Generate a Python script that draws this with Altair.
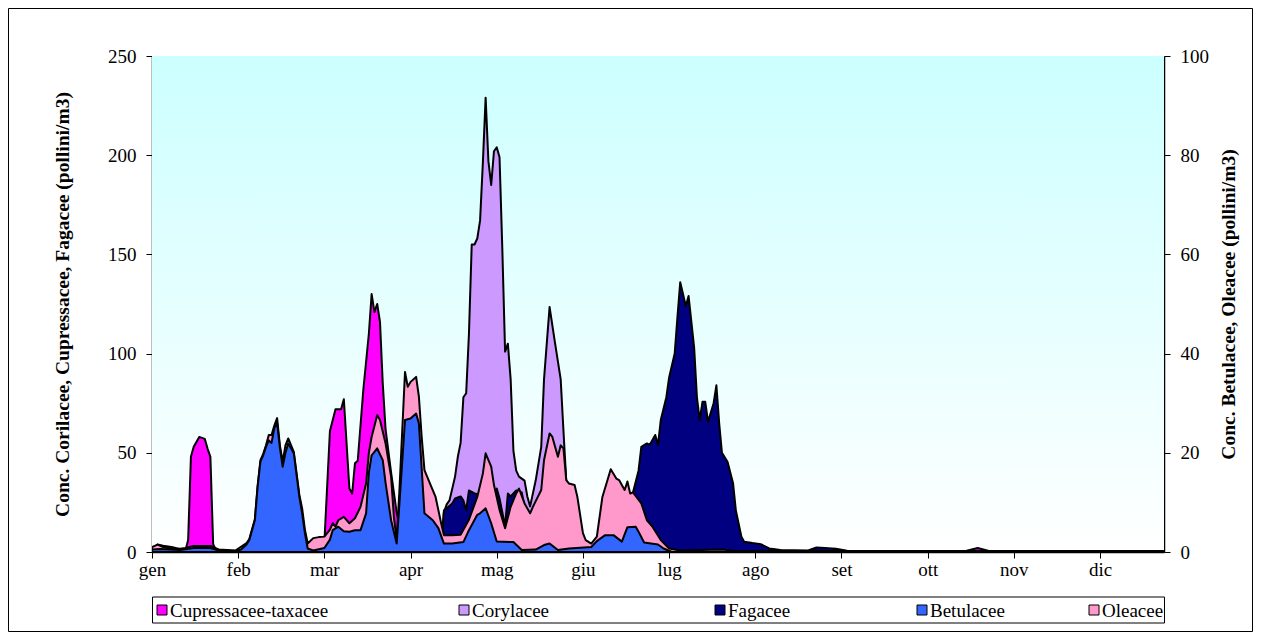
import altair as alt
import pandas as pd

# ---------------- data (day index, value) ----------------
MONTHS = ["gen", "feb", "mar", "apr", "mag", "giu", "lug", "ago", "set", "ott", "nov", "dic"]
MONTH_TICKS = [0, 31, 62, 93, 124, 155, 186, 217, 248, 279, 310, 341]

SERIES = ["Cupressacee-taxacee", "Corylacee", "Fagacee", "Betulacee", "Oleacee"]
COLORS = ["#FF00FF", "#CC99FF", "#000080", "#3366FF", "#FF99CC"]

# primary axis (left, 0-250)
cup_day = [0, 2, 4, 7, 10, 12, 13, 14, 15, 17, 19, 20, 21, 22, 23, 26, 58, 60, 62, 64, 66, 68, 69, 71, 72, 73,
           74, 76, 78, 79, 80, 81, 82, 83, 84, 86, 88, 90, 93, 100, 110, 150, 220, 224, 228, 292, 297, 301, 364]
cup_val = [1, 3.8, 3.2, 2.5, 1.5, 0.8, 6, 48, 53, 58, 57, 52, 48, 4, 1, 0, 0, 1, 5, 61, 72, 72, 77, 32, 29.5, 44.7,
           46, 81.6, 110, 130, 121, 125, 116, 85, 62, 40, 20, 6, 2, 1, 0.5, 0.3, 0.3, 1.2, 0.3, 0.3, 2, 0.5, 0.2]

cor_day = [0, 104, 105, 106, 107, 109, 110, 111, 112, 113, 114, 115, 116, 117, 118, 119, 120, 121, 122, 123, 124,
           125, 126, 127, 128, 129, 130, 131, 132, 134, 135, 136, 138, 140, 141, 143, 145, 147, 148, 149, 150, 152,
           155, 160, 364]
cor_val = [0, 0, 20, 24, 26, 38, 48, 55, 78, 80, 110, 155, 155, 158, 167, 196, 229, 197, 185, 202, 204,
           199, 153, 101, 105, 87, 51, 41, 38, 36, 28, 23, 36, 53, 87, 123.5, 105, 87, 61, 36, 20, 5,
           1, 0, 0]

fag_day = [0, 104, 105, 106, 108, 109, 111, 112, 113, 114, 116, 118, 120, 122, 124, 125, 127, 128, 129, 131, 133,
           135, 137, 140, 150, 160, 168, 170, 173, 175, 176, 178, 179, 181, 182, 183, 185, 186, 188, 189, 190, 192,
           193, 195, 196, 197, 198, 199, 200, 202, 203, 204, 205, 207, 209, 210, 212, 213, 216, 219, 222, 226, 236,
           239, 242, 246, 250, 364]
fag_val = [0, 0, 21, 22, 24.5, 27, 28, 26, 21, 31, 29.5, 29, 25, 28, 32, 27, 13, 29.5, 28, 31, 30,
           15, 5, 2, 2, 3, 10, 25, 30, 41, 53, 54.7, 54, 59, 54, 66.5, 78, 88, 100, 118.5, 136, 124,
           129, 103, 78, 66.5, 75.7, 75.7, 65.6, 75, 84, 65, 50, 45.5, 34.6, 21, 7.7, 5.2, 4.5, 3.9, 1.8, 1, 0.8,
           2.3, 2, 1.6, 0.6, 0.3]

# secondary axis (right, 0-100)
bet_day = [0, 3, 10, 15, 21, 24, 30, 32, 34, 35, 37, 38, 39, 40, 41, 42, 43, 44, 45, 46, 47, 48, 49, 51, 53, 54,
           55, 56, 58, 62, 64, 65, 67, 69, 71, 73, 75, 77, 78, 79, 81, 83, 84, 86, 88, 89, 91, 93, 95, 96, 98, 101,
           103, 105, 108, 112, 114, 117, 118, 120, 122, 124, 130, 133, 138, 141, 143, 146, 150, 158, 160, 163, 166,
           169, 171, 174, 175, 177, 182, 184, 187, 364]
bet_val = [0.5, 0.6, 0.4, 0.8, 0.8, 0.3, 0.2, 0.5, 1.5, 2.4, 6.4, 13.2, 18.2, 19.5, 21.2, 22.5, 22, 25, 26, 21, 17.2,
           20, 21.9, 19.9, 11.1, 7.8, 3.8, 0.7, 0.3, 0.8, 2.5, 4.4, 5.1, 4.2, 4.1, 4.4, 4.4, 7.8, 16, 19.5, 20.9,
           18.5, 14, 6.4, 1.7, 9.8, 26.6, 26.9, 27.9, 25.9, 7.8, 6.4, 4.8, 1.7, 1.7, 2, 4.4, 7.5, 7.8, 8.8, 5.8,
           2.1, 2, 0.4, 0.5, 1.4, 1.7, 0.4, 0.7, 1, 2.2, 3.4, 3.4, 2.1, 5, 5.1, 4.1, 1.9, 1.5, 0.7, 0, 0]

ole_day = [0, 2, 4, 8, 12, 15, 21, 24, 30, 34, 35, 37, 38, 39, 40, 41, 42, 43, 44, 45, 46, 47, 48, 49, 51, 53, 54,
           55, 56, 58, 60, 62, 64, 65, 66, 67, 69, 71, 73, 75, 77, 78, 79, 81, 82, 84, 86, 87, 88, 89, 91, 92, 93,
           95, 96, 97, 98, 100, 102, 104, 105, 108, 111, 114, 117, 119, 120, 122, 123, 125, 127, 129, 131, 132,
           134, 136, 137, 140, 141, 143, 144, 146, 147, 148, 149, 150, 152, 153, 155, 156, 158, 160, 162, 165,
           167, 168, 170, 171, 172, 173, 176, 178, 180, 183, 186, 190, 205, 210, 364]
ole_val = [1, 1.5, 1, 0.5, 0.8, 1.2, 1.2, 0.5, 0.3, 1.8, 2.6, 6.6, 13.4, 18.5, 19.8, 21.5, 23.6, 23.6, 25.5, 27,
           21.5, 18.2, 21.5, 22.9, 20.2, 11.5, 8.8, 4.5, 1.7, 2.8, 3, 3.1, 4.5, 5.8, 5.1, 6.4, 7.1, 5.8, 6.8, 9.1,
           13.8, 20, 23.2, 27.6, 26.6, 21.9, 15.2, 7.1, 2.4, 12.5, 36.3, 33.3, 34.3, 35.3, 31.3, 23.2, 16.5, 13.8,
           11.1, 5.8, 3.4, 3.4, 3.5, 6.5, 11.1, 15.8, 19.9, 17.2, 13.5, 8.5, 4.8, 9.1, 11.8, 12.8, 9.8, 7.8, 9.1,
           12.5, 18.5, 23.9, 23.2, 19.2, 21.5, 20.9, 14.5, 13.8, 13.5, 11.1, 3.8, 2.4, 1.7, 3.1, 11.1, 16.7,
           14.8, 14.5, 12.5, 14.2, 11.8, 12, 9.8, 6.4, 5.1, 2.4, 0.7, 0.3, 0.5, 0.2, 0.2]


def frame(days, vals, name):
    return pd.DataFrame({"day": days, "value": vals, "series": name})


# ---------------- layout ----------------
W, H = 1012, 496
SERIF = "Liberation Serif"

x_scale = alt.Scale(domain=[0, 364], nice=False, zero=False)
y_left = alt.Scale(domain=[0, 250], nice=False)
y_right = alt.Scale(domain=[0, 100], nice=False)

month_expr = "[" + ",".join("'%s'" % m for m in MONTHS) + "][round(datum.value/31)]"

x_axis = alt.Axis(values=MONTH_TICKS, labelExpr=month_expr, title=None, grid=False,
                  tickSize=6, tickColor="black", domainColor="black", domainWidth=1.5,
                  labelFont=SERIF, labelFontSize=19, labelColor="black", labelPadding=2,
                  labelAlign="center")

left_axis = alt.Axis(orient="left", values=[0, 50, 100, 150, 200, 250], grid=True,
                     gridColor="#808080", gridWidth=1,
                     tickSize=6, tickColor="black", domainColor="black", domainWidth=1.5,
                     labelFont=SERIF, labelFontSize=19, labelColor="black", labelPadding=10,
                     title="Conc. Corilacee, Cupressacee, Fagacee (pollini/m3)",
                     titleFont=SERIF, titleFontSize=19.5, titleFontWeight="bold", titleColor="black",
                     titleAngle=270, titleX=-90, titleY=H / 2, titleAlign="center", titleBaseline="middle")

right_axis = alt.Axis(orient="right", values=[0, 20, 40, 60, 80, 100], grid=False,
                      tickSize=6, tickColor="black", domainColor="black", domainWidth=1.5,
                      labelFont=SERIF, labelFontSize=19, labelColor="black", labelPadding=10,
                      title="Conc. Betulacee, Oleacee (pollini/m3)",
                      titleFont=SERIF, titleFontSize=19.5, titleFontWeight="bold", titleColor="black",
                      titleAngle=270, titleX=64, titleY=H / 2, titleAlign="center", titleBaseline="middle")


def area(df, yscale, yaxis, color):
    return alt.Chart(df).mark_area(fill=color, stroke="black", strokeWidth=2, strokeJoin="round",
                                   interpolate="linear", clip=True).encode(
        x=alt.X("day:Q", scale=x_scale, axis=x_axis),
        y=alt.Y("value:Q", scale=yscale, axis=yaxis),
        tooltip=["series:N", "day:Q", "value:Q"],
    )


one_row = alt.Data(values=[{}])

background = alt.Chart(one_row).mark_rect(
    fill=alt.LinearGradient(gradient="linear", x1=0, x2=0, y1=0, y2=1,
                            stops=[alt.GradientStop(color="#CCFFFF", offset=0),
                                   alt.GradientStop(color="#FFFFFF", offset=1)])
).encode(x=alt.value(0), x2=alt.value(W), y=alt.value(0), y2=alt.value(H))

border = alt.Chart(one_row).mark_rect(
    filled=False, stroke="black", strokeWidth=1
).encode(x=alt.value(-143.5), x2=alt.value(W + 88.5), y=alt.value(-47.5), y2=alt.value(H + 79.5))

# ---- legend (drawn as a framed row of swatches + labels) ----
LEG_TOP, LEG_H = H + 45, 26
LEG_CY = LEG_TOP + LEG_H / 2
LEG_SWATCH_X = [10, 312, 568, 770, 942]

legend_layers = [
    alt.Chart(one_row).mark_rect(fill="white", stroke="black", strokeWidth=1).encode(
        x=alt.value(0.5), x2=alt.value(W + 0.5), y=alt.value(LEG_TOP), y2=alt.value(LEG_TOP + LEG_H))
]
for name, col, sx in zip(SERIES, COLORS, LEG_SWATCH_X):
    legend_layers.append(
        alt.Chart(one_row).mark_square(size=100, fill=col, stroke="black", strokeWidth=1, opacity=1).encode(
            x=alt.value(sx), y=alt.value(LEG_CY)))
    legend_layers.append(
        alt.Chart(one_row).mark_text(text=name, font=SERIF, fontSize=19, color="black",
                                     align="left", baseline="middle").encode(
            x=alt.value(sx + 8), y=alt.value(LEG_CY + 1)))

primary = alt.layer(
    background,
    area(frame(cup_day, cup_val, SERIES[0]), y_left, left_axis, COLORS[0]),
    area(frame(cor_day, cor_val, SERIES[1]), y_left, left_axis, COLORS[1]),
    area(frame(fag_day, fag_val, SERIES[2]), y_left, left_axis, COLORS[2]),
)

secondary = alt.layer(
    area(frame(ole_day, ole_val, SERIES[4]), y_right, right_axis, COLORS[4]),
    area(frame(bet_day, bet_val, SERIES[3]), y_right, right_axis, COLORS[3]),
    border,
    *legend_layers,
)

chart = alt.layer(primary, secondary).resolve_scale(y="independent").properties(
    width=W, height=H,
    autosize=alt.AutoSizeParams(type="none"),
    padding={"left": 144, "top": 48, "right": 89, "bottom": 81},
    background="white",
).configure(
    font=SERIF
).configure_view(
    stroke="transparent"
)

chart.save("out.html", embed_options={"renderer": "svg", "actions": False})
